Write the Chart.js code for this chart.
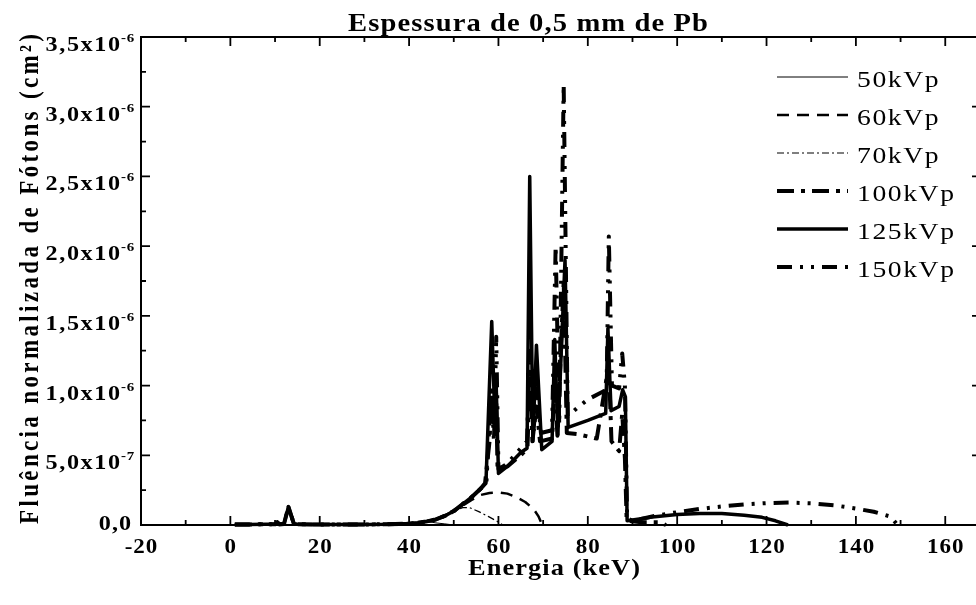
<!DOCTYPE html>
<html>
<head>
<meta charset="utf-8">
<script src="https://cdn.jsdelivr.net/npm/chart.js@4.4.1/dist/chart.umd.min.js"></script>
<style>
html, body { margin: 0; padding: 0; background: #fff; overflow: hidden; }
#wrap { width: 982px; height: 605px; }
</style>
</head>
<body>
<div id="wrap"><canvas id="graph" width="982" height="605"></canvas></div>
<script>
// fluence in units of 1e-6 cm^2, energy in keV
const labels = ['50kVp', '60kVp', '70kVp', '100kVp', '125kVp', '150kVp'];

// low energy part shared by all spectra (Pb L lines around 13 keV)
const lowE = [1, 4, 8, 10, 10.5, 11, 12, 13, 14.2, 15, 20, 25, 30, 35, 40, 42, 44];
const lowF = [0.004, 0.004, 0.005, 0.005, 0.02, 0.005, 0.008, 0.13, 0.01, 0.005, 0.004, 0.004, 0.004, 0.005, 0.01, 0.017, 0.026];

const e50 = [46, 48, 50];
const f50 = [0.015, 0.008, 0];

const e60 = [46, 48, 50, 52, 54, 56, 58, 60, 62, 64, 66, 67.9, 69, 69.8];
const f60 = [0.04, 0.07, 0.1, 0.14, 0.18, 0.215, 0.23, 0.234, 0.225, 0.2, 0.165, 0.113, 0.06, 0];

const e70 = [46, 48, 50, 52, 53.5, 55.6, 57.8, 59.5, 61];
const f70 = [0.04, 0.07, 0.1, 0.125, 0.125, 0.096, 0.06, 0.03, 0];

const e100 = [46, 48, 50, 52, 54, 56, 57, 58, 58.5, 59, 59.4, 59.8, 62, 65, 66.5, 67, 67.6, 68.5, 69.3, 72, 72.6, 73.2,
  74.6, 75.3, 78, 82, 84.7, 85.3, 87, 87.7, 88.3, 88.7, 92, 96, 97.5];
const f100 = [0.04, 0.065, 0.1, 0.15, 0.2, 0.26, 0.3, 0.6, 0.95, 0.7, 1.05, 0.4, 0.42, 0.5, 0.55, 1.1, 0.6, 0.85, 0.6, 0.62, 1.0, 0.64,
  1.75, 0.66, 0.65, 0.62, 1.15, 0.6, 0.53, 0.8, 0.48, 0.03, 0.02, 0.02, 0];

const e125 = [46, 48, 50, 52, 54, 56, 57.2, 58.5, 59.2, 59.5, 60, 62, 65, 66.4, 67, 67.7, 68.5, 69.7, 72, 72.6, 73.3, 74.9, 75.6,
  80, 84, 84.5, 85.2, 87, 87.8, 88.4, 88.8, 90, 95, 100, 105, 110, 115, 119, 122, 124.8];
const f125 = [0.04, 0.065, 0.1, 0.15, 0.2, 0.26, 0.3, 1.46, 0.75, 1.0, 0.37, 0.42, 0.52, 0.55, 2.5, 0.6, 1.29, 0.54, 0.6, 1.33, 0.65, 1.9, 0.7,
  0.75, 0.8, 1.41, 0.82, 0.85, 0.97, 0.92, 0.03, 0.036, 0.06, 0.075, 0.082, 0.082, 0.07, 0.055, 0.03, 0];

const e150 = [46, 48, 50, 52, 54, 56, 57.3, 58.4, 59.0, 59.5, 60, 62, 65, 66.4, 67, 67.8, 68.6, 69.5, 72, 72.8, 73.6, 74.6, 75.5,
  78, 80, 83, 84.2, 84.7, 85.4, 87, 87.7, 88.3, 88.8, 90, 95, 100, 105, 110, 115, 120, 125, 130, 135, 140, 144, 147.8, 149.3];
const f150 = [0.04, 0.065, 0.1, 0.15, 0.2, 0.26, 0.3, 1.0, 0.6, 1.35, 0.4, 0.44, 0.55, 0.6, 1.25, 0.65, 1.0, 0.66, 0.68, 2.0, 0.72, 3.16, 0.78,
  0.85, 0.9, 0.95, 0.97, 2.07, 1.0, 0.98, 1.23, 1.0, 0.05, 0.03, 0.065, 0.092, 0.115, 0.133, 0.147, 0.157, 0.161, 0.156, 0.142, 0.118, 0.095, 0.06, 0];

const xTicks = [-20, 0, 20, 40, 60, 80, 100, 120, 140, 160];
const yTicks = [0, 0.5, 1.0, 1.5, 2.0, 2.5, 3.0, 3.5];
const yTickText = ['0,0', '5,0x10', '1,0x10', '1,5x10', '2,0x10', '2,5x10', '3,0x10', '3,5x10'];
const yTickExp = ['', '-7', '-6', '-6', '-6', '-6', '-6', '-6'];

const energies = [e50, e60, e70, e100, e125, e150];
const fluences = [f50, f60, f70, f100, f125, f150];
const widths = [1, 2.5, 1.2, 4, 3.5, 4];
const dashes = [[], [12, 8], [7, 3, 2, 3], [17, 7, 4, 7], [], [15, 8, 3, 8, 3, 8]];

const FONT = '"Liberation Serif", "Times New Roman", serif';

// text slightly widened (sx) and letter spaced; opt.width fits the spacing to a width
function txt(ctx, s, x, y, size, opt) {
  ctx.save();
  ctx.font = (opt.bold ? 'bold ' : '') + size + 'px ' + FONT;
  ctx.translate(x, y);
  if (opt.rot) ctx.rotate(opt.rot);
  const sx = opt.sx || 1;
  ctx.scale(sx, opt.sy || 1);
  const n = Array.from(s).length;
  const w0 = ctx.measureText(s).width;
  const ls = opt.width ? (opt.width / sx - w0) / Math.max(n - 1, 1) : (opt.ls || 0) / sx;
  const w = w0 + ls * (n - 1);
  ctx.letterSpacing = ls + 'px';
  const align = opt.align || 'center';
  const x0 = align === 'center' ? -w / 2 : align === 'right' ? -w : 0;
  ctx.textAlign = 'left';
  ctx.textBaseline = 'alphabetic';
  ctx.fillStyle = '#000';
  ctx.fillText(s, x0, 0);
  ctx.restore();
}

const frame = {
  id: 'frame',
  afterDatasetsDraw(chart) {
    const {ctx, chartArea: a, scales: {x, y}} = chart;
    ctx.save();
    ctx.strokeStyle = '#000';
    ctx.lineWidth = 2;
    ctx.setLineDash([]);
    ctx.strokeRect(a.left, a.top, a.right - a.left, a.bottom - a.top);

    // inward ticks on all four sides
    ctx.lineWidth = 1.8;
    ctx.beginPath();
    xTicks.forEach((v, i) => {
      const marks = [[v, 9]];
      if (i < xTicks.length - 1) marks.push([(v + xTicks[i + 1]) / 2, 5]);
      marks.forEach(([t, len]) => {
        const px = x.getPixelForValue(t);
        ctx.moveTo(px, a.bottom); ctx.lineTo(px, a.bottom - len);
        ctx.moveTo(px, a.top); ctx.lineTo(px, a.top + len);
      });
    });
    yTicks.forEach((v, i) => {
      const marks = [[v, 9]];
      if (i < yTicks.length - 1) marks.push([(v + yTicks[i + 1]) / 2, 5]);
      marks.forEach(([t, len]) => {
        const py = y.getPixelForValue(t);
        ctx.moveTo(a.left, py); ctx.lineTo(a.left + len, py);
        ctx.moveTo(a.right, py); ctx.lineTo(a.right - len, py);
      });
    });
    ctx.stroke();
    ctx.restore();

    // tick labels
    xTicks.forEach(v => {
      txt(ctx, String(v), x.getPixelForValue(v), 553, 20, {bold: true, sx: 1.15, ls: 1});
    });
    yTicks.forEach((v, i) => {
      const py = y.getPixelForValue(v);
      if (yTickExp[i]) {
        txt(ctx, yTickText[i], 120, py + 14, 21, {bold: true, sx: 1.15, ls: 1.6, align: 'right'});
        txt(ctx, yTickExp[i], 121, py + 5, 13, {bold: true, sx: 1.15, ls: 0.8, align: 'left'});
      } else {
        txt(ctx, yTickText[i], 131, py + 5, 21, {bold: true, sx: 1.15, ls: 1, align: 'right'});
      }
    });

    // titles
    txt(ctx, 'Espessura de 0,5 mm de Pb', 528, 31, 26, {bold: true, sx: 1.1, width: 360});
    txt(ctx, 'Energia (keV)', 554, 575, 24, {bold: true, sx: 1.1, width: 172});
    txt(ctx, 'Fluência normalizada de Fótons (cm²)', 38, 279, 23, {bold: true, width: 490, sy: 1.15, rot: -Math.PI / 2});

    // legend inside the plot
    chart.data.datasets.forEach((ds, i) => {
      const ry = 77 + i * 38;
      ctx.save();
      ctx.strokeStyle = '#000';
      ctx.lineWidth = ds.borderWidth;
      ctx.setLineDash(ds.borderDash);
      ctx.beginPath();
      ctx.moveTo(777, ry); ctx.lineTo(848, ry);
      ctx.stroke();
      ctx.restore();
      txt(ctx, ds.label, 857, ry + 10, 24, {sx: 1.15, ls: 1.6, align: 'left'});
    });
  }
};

const datasets = labels.map((label, i) => {
  const e = lowE.concat(energies[i]);
  const f = lowF.concat(fluences[i]);
  return {
    label: label,
    data: e.map((v, j) => ({x: v, y: f[j]})),
    borderColor: '#000',
    borderWidth: widths[i],
    borderDash: dashes[i],
    borderJoinStyle: 'round',
    fill: false,
    clip: false,
    pointRadius: 0,
    tension: 0
  };
});

new Chart(document.getElementById('graph'), {
  type: 'line',
  data: {datasets: datasets},
  options: {
    responsive: false,
    animation: false,
    layout: {padding: {top: 37, right: 1, left: 0, bottom: 0}},
    plugins: {
      legend: {display: false},
      title: {display: false},
      tooltip: {enabled: false}
    },
    scales: {
      x: {
        type: 'linear', min: -20, max: 168,
        ticks: {display: false}, grid: {display: false}, border: {display: false},
        afterFit: s => { s.height = 80; }
      },
      y: {
        type: 'linear', min: 0, max: 3.5,
        ticks: {display: false}, grid: {display: false}, border: {display: false},
        afterFit: s => { s.width = 141; }
      }
    }
  },
  plugins: [frame]
});
</script>
</body>
</html>
